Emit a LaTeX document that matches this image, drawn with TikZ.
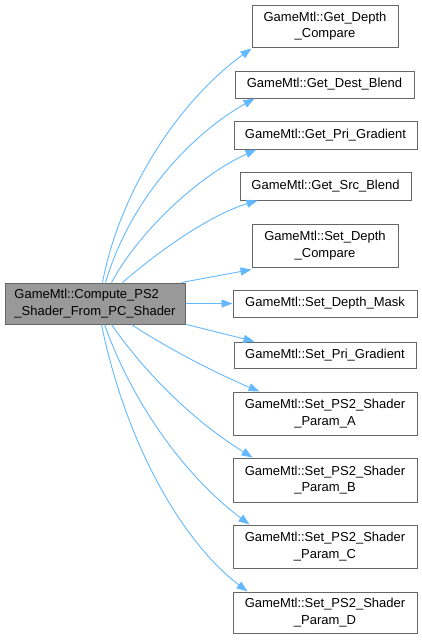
\documentclass[tikz,border=0pt]{standalone}
\usepackage{fontspec}
\setmainfont{Liberation Sans}
\usetikzlibrary{arrows.meta}
\definecolor{edgeblue}{HTML}{63B8FF}
\definecolor{nodeborder}{HTML}{666666}
\definecolor{srcfill}{HTML}{999999}
\begin{document}
\begin{tikzpicture}[x=1pt,y=-1pt,
  box/.style={draw=nodeborder, line width=1pt, fill=white, inner sep=0pt,
    align=center, font=\fontsize{13}{16.5}\selectfont, text=black},
  srcbox/.style={box, fill=srcfill, align=left},
  edge/.style={draw=edgeblue, line width=0.9pt,
    -{Triangle[length=11pt,width=8pt]}}]
\useasboundingbox (0,0) rectangle (422,640);
\node[srcbox, minimum width=180pt, minimum height=41pt] (src) at (95,303.5) {GameMtl::Compute\_PS2\\\_Shader\_From\_PC\_Shader};
\node[box, minimum width=146pt, minimum height=42pt] (n1) at (325,26) {GameMtl::Get\_Depth\\\_Compare};
\node[box, minimum width=179pt, minimum height=27pt] (n2) at (324.5,84.5) {GameMtl::Get\_Dest\_Blend};
\node[box, minimum width=183pt, minimum height=28pt] (n3) at (325.5,135) {GameMtl::Get\_Pri\_Gradient};
\node[box, minimum width=171pt, minimum height=28pt] (n4) at (325.5,186) {GameMtl::Get\_Src\_Blend};
\node[box, minimum width=146pt, minimum height=43pt] (n5) at (325,245.5) {GameMtl::Set\_Depth\\\_Compare};
\node[box, minimum width=184pt, minimum height=27pt] (n6) at (325,303.5) {GameMtl::Set\_Depth\_Mask};
\node[box, minimum width=182pt, minimum height=26pt] (n7) at (325,355) {GameMtl::Set\_Pri\_Gradient};
\node[box, minimum width=184pt, minimum height=43pt] (n8) at (325,413.5) {GameMtl::Set\_PS2\_Shader\\\_Param\_A};
\node[box, minimum width=184pt, minimum height=44pt] (n9) at (325,480) {GameMtl::Set\_PS2\_Shader\\\_Param\_B};
\node[box, minimum width=184pt, minimum height=43pt] (n10) at (325,546.5) {GameMtl::Set\_PS2\_Shader\\\_Param\_C};
\node[box, minimum width=184pt, minimum height=41pt] (n11) at (325,612.5) {GameMtl::Set\_PS2\_Shader\\\_Param\_D};

\draw[edge] ([xshift=98pt]src.north west) .. controls (120,190) and (180,100) .. ([yshift=-1pt]n1.south west);
\draw[edge] ([xshift=101pt]src.north west) .. controls (130,200) and (190,135) .. ([xshift=20pt]n2.south west);
\draw[edge] ([xshift=107pt]src.north west) .. controls (140,230) and (200,175) .. ([xshift=23pt]n3.south west);
\draw[edge] ([xshift=118pt]src.north west) .. controls (160,250) and (210,215) .. ([xshift=18pt]n4.south west);
\draw[edge] ([xshift=177pt]src.north west) -- ([yshift=-2pt]n5.south west);
\draw[edge] (src.east) -- (n6.west);
\draw[edge] ([xshift=1pt]src.south east) -- ([xshift=21pt]n7.north west);
\draw[edge] ([xshift=127pt]src.south west) .. controls (170,350) and (220,375) .. ([xshift=27pt]n8.north west);
\draw[edge] ([xshift=107pt]src.south west) .. controls (150,380) and (200,425) .. ([xshift=20pt]n9.north west);
\draw[edge] ([xshift=100pt]src.south west) .. controls (135,410) and (190,480) .. ([xshift=17pt]n10.north west);
\draw[edge] ([xshift=97pt]src.south west) .. controls (125,440) and (180,540) .. ([xshift=15pt]n11.north west);
\end{tikzpicture}
\end{document}
